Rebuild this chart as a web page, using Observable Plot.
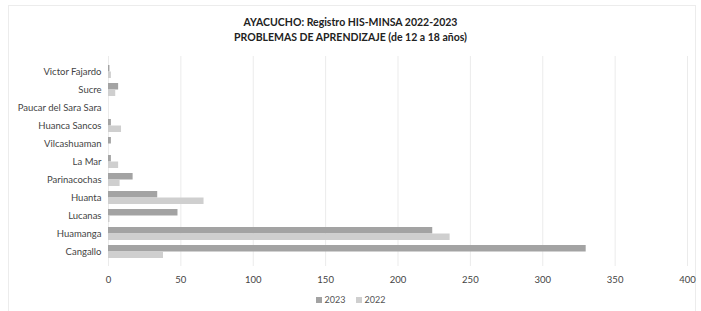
<!DOCTYPE html>
<html>
<head>
<meta charset="utf-8">
<script src="https://cdn.jsdelivr.net/npm/d3@7"></script>
<script src="https://cdn.jsdelivr.net/npm/@observablehq/plot@0.6"></script>
<style>
  html, body { margin: 0; padding: 0; background: #fff; }
  body { width: 701px; height: 311px; overflow: hidden; font-family: Lato, "Open Sans", sans-serif; position: relative; }
  #frame { position: absolute; left: 8px; top: 5px; width: 688px; height: 310px; border: 1px solid #ececec; box-sizing: border-box; }
  #title { position: absolute; left: 0; top: 15px; width: 701px; text-align: center; font-size: 10.5px; font-weight: bold; color: #222; line-height: 15px; }
  #chart { position: absolute; left: 0; top: 50px; }
  #legend { position: absolute; left: 0; top: 294px; width: 701px; text-align: center; font-size: 9px; color: #555; }
  #legend span.sw { display: inline-block; width: 6px; height: 6px; margin-right: 3px; vertical-align: 0px; }
  #legend span.item { margin: 0 5px; }
</style>
</head>
<body>
<div id="frame"></div>
<div id="title">AYACUCHO: Registro HIS-MINSA 2022-2023<br>PROBLEMAS DE APRENDIZAJE (de 12 a 18 años)</div>
<div id="chart"></div>
<div id="legend"></div>
<script>
const regions = ["Victor Fajardo", "Sucre", "Paucar del Sara Sara", "Huanca Sancos", "Vilcashuaman", "La Mar", "Parinacochas", "Huanta", "Lucanas", "Huamanga", "Cangallo"];
const values2023 = [1, 7, 0, 2, 2, 2, 17, 34, 48, 224, 330];
const values2022 = [2, 5, 0, 9, 0, 7, 8, 66, 1, 236, 38];
const xTicks = [0, 50, 100, 150, 200, 250, 300, 350, 400];
const seriesNames = ["2023", "2022"];
const seriesColors = ["#a3a3a3", "#cfcfcf"];

const rows2023 = regions.map((r, i) => ({region: r, value: values2023[i]}));
const rows2022 = regions.map((r, i) => ({region: r, value: values2022[i]}));

const chart = Plot.plot({
  width: 701,
  height: 238,
  marginTop: 6,
  marginBottom: 22,
  marginLeft: 108,
  marginRight: 14,
  style: {fontFamily: "Lato, 'Open Sans', sans-serif", fontSize: "9px", color: "#444", background: "transparent"},
  x: {domain: [0, 400], ticks: xTicks, grid: false, label: null},
  y: {domain: regions, padding: 0.3, label: null},
  marks: [
    Plot.gridX(xTicks, {stroke: "#ebebeb", strokeOpacity: 1, strokeWidth: 1}),
    Plot.barX(rows2023, {y: "region", x: "value", fill: seriesColors[0], insetBottom: 6.5}),
    Plot.barX(rows2022, {y: "region", x: "value", fill: seriesColors[1], insetTop: 6.5}),
    Plot.axisX({ticks: xTicks, tickSize: 0, tickPadding: 10, fontSize: 9.5, fill: "#444", label: null}),
    Plot.axisY({tickSize: 0, tickPadding: 7, fontSize: 9.5, fill: "#444", label: null})
  ]
});
document.getElementById("chart").appendChild(chart);

const legend = document.getElementById("legend");
seriesNames.forEach((name, i) => {
  const item = document.createElement("span");
  item.className = "item";
  const sw = document.createElement("span");
  sw.className = "sw";
  sw.style.background = seriesColors[i];
  item.appendChild(sw);
  item.appendChild(document.createTextNode(name));
  legend.appendChild(item);
});
</script>
</body>
</html>
